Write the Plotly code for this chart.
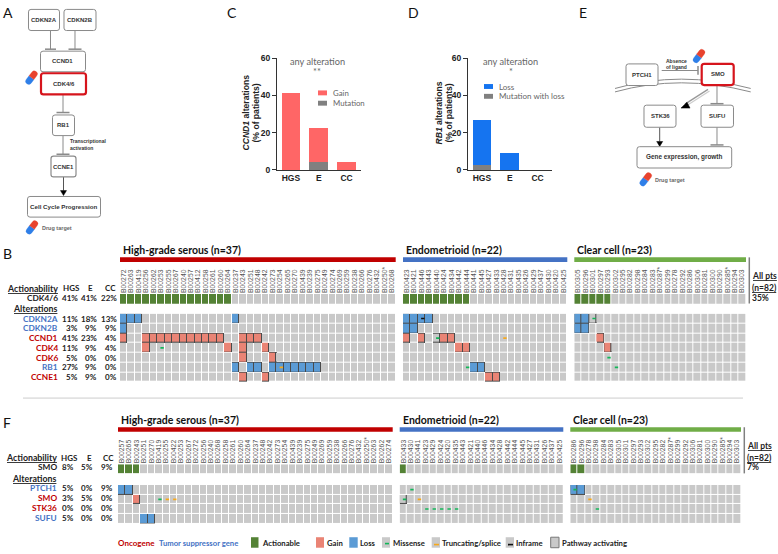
import numpy as np
import plotly.graph_objects as go

W, H = 778, 554
SANS = "Liberation Sans"
LATO = "Lato"

# ---------- bar panels ----------
GROUPS = ["HGS", "E", "CC"]
CCND1_MUT = [0, 4.5, 0]
CCND1_GAIN = [41, 18.2, 4.5]
RB1_MUT = [2.7, 0, 0]
RB1_LOSS = [24.3, 9, 0]

# ---------- panel B ----------
B_HGS_IDS = ["B00272","B00263","B00419","B00256","B00262","B00253","B00255","B00267","B00240","B00257",
             "B00412","B00258","B00261","B00260","B00264","B00237","B00243","B00251","B00248","B00242",
             "B00273","B00254","B00265","B00270","B00439","B00239","B00275","B00249","B00274","B00269",
             "B00259","B00238","B00266","B00276","B00432","B00250*","B00268"]
B_E_IDS = ["B00423","B00421","B00446","B00443","B00440","B00424","B00434","B00442","B00444","B00441","B00445",
           "B00427","B00433","B00428","B00431","B00435","B00426","B00429","B00437","B00430","B00420","B00425"]
B_CC_IDS = ["B00305","B00296","B00301","B00297","B00293","B00302","B00295","B00282","B00298","B00284","B00283",
            "B00287*","B00299","B00278","B00292","B00286","B00306","B00281","B00300","B00290","B00285*","B00294","B00303"]
B_GENES = ["CDKN2A", "CDKN2B", "CCND1", "CDK4", "CDK6", "RB1", "CCNE1"]
B_GENE_KIND = ["ts", "ts", "onc", "onc", "onc", "ts", "onc"]
B_PCT_HGS = ["11%", "3%", "41%", "11%", "5%", "27%", "5%"]
B_PCT_E = ["18%", "9%", "23%", "9%", "0%", "9%", "9%"]
B_PCT_CC = ["13%", "9%", "4%", "4%", "0%", "0%", "0%"]
B_ACTION_LABEL = "CDK4/6"
B_ACTION_PCT = ["41%", "41%", "22%"]
B_ALL_PCT = "35%"
B_HGS_ACTION = 15
B_HGS_LOSS = {0: [0, 1, 2, 15], 1: [0], 5: [15, 17, 18, 20, 21, 22, 23, 24, 25, 26]}
B_HGS_GAIN = {2: [0, 3, 4, 5, 6, 7, 8, 9, 10, 11, 12, 13, 16, 17, 18], 3: [3, 14, 16, 19], 4: [16, 20], 6: [16, 19]}
B_HGS_MISS = {3: [5]}
B_HGS_TRUNC = {5: [21]}
B_E_ACTION = 9
B_E_LOSS = {0: [0, 1, 2, 3], 1: [0, 1], 5: [9, 10]}
B_E_GAIN = {2: [0, 2, 5, 6], 3: [7, 8], 6: [11, 12]}
B_E_PATH = {2: [4]}
B_E_MISS = {2: [4], 5: [8]}
B_E_TRUNC = {2: [13]}
B_E_INFRAME = {0: [2]}
B_CC_ACTION = 5
B_CC_LOSS = {0: [0, 1], 1: [0, 1]}
B_CC_GAIN = {2: [3], 3: [4]}
B_CC_PATH = {0: [2]}
B_CC_MISS = {0: [2], 4: [4], 5: [5]}

# ---------- panel F ----------
F_HGS_IDS = ["B00257","B00265","B00243","B00251","B00270","B00419","B00255","B00422","B00253","B00267",
             "B00272","B00256","B00240","B00268","B00258","B00261","B00260","B00264","B00237","B00248",
             "B00242","B00273","B00254","B00439","B00239","B00275","B00249","B00269","B00259","B00238",
             "B00266","B00276","B00432","B00250*","B00263","B00262","B00274"]
F_E_IDS = ["B00433","B00430","B00441","B00423","B00429","B00424","B00420","B00435","B00443","B00421","B00440",
           "B00446","B00434","B00428","B00442","B00444","B00445","B00427","B00431","B00426","B00437","B00425"]
F_CC_IDS = ["B00286","B00296","B00278","B00298","B00284","B00283","B00305","B00301","B00297","B00293","B00302",
            "B00295","B00282","B00287*","B00299","B00292","B00306","B00281","B00300","B00290","B00285*","B00294","B00303"]
F_GENES = ["PTCH1", "SMO", "STK36", "SUFU"]
F_GENE_KIND = ["ts", "onc", "onc", "ts"]
F_PCT_HGS = ["5%", "3%", "0%", "5%"]
F_PCT_E = ["0%", "5%", "0%", "0%"]
F_PCT_CC = ["9%", "0%", "0%", "0%"]
F_ACTION_LABEL = "SMO"
F_ACTION_PCT = ["8%", "5%", "9%"]
F_ALL_PCT = "7%"
F_HGS_ACTION = 3
F_HGS_LOSS = {0: [0, 1], 3: [3, 4]}
F_HGS_GAIN = {1: [2]}
F_HGS_MISS = {1: [5]}
F_HGS_TRUNC = {1: [6, 7]}
F_E_ACTION = 1
F_E_PATH = {1: [0]}
F_E_MISS = {0: [1], 1: [0], 2: [3, 4, 5, 6, 7]}
F_E_TRUNC = {1: [2]}
F_CC_ACTION = 2
F_CC_LOSS = {0: [0, 1]}
F_CC_MISS = {0: [0], 2: [3]}
F_CC_TRUNC = {1: [2]}

# ---------- colours ----------
GREY, GAIN, LOSS, ACT = "#c9c9c9", "#ea8475", "#5b9bd5", "#548235"
EDGE = "#4a4a4a"
MISS_C, TRUNC_C, INFR_C = "#12b658", "#f7a81b", "#111111"
RED, BLUE = "#c00000", "#4472c4"
DIAG = "#8a8a8a"
TXT = "#222222"

fx = lambda x: x / W
fy = lambda y: 1 - y / H

fig = go.Figure()
shapes, notes, axes = [], [], {}


def text(x, y, s, size=9, color=TXT, anchor="left", family=LATO, bold=True, **kw):
    notes.append(dict(x=fx(x), y=fy(y), xref="paper", yref="paper", showarrow=False, xanchor=anchor,
                      yanchor="middle", text=f"<b>{s}</b>" if bold else s,
                      font=dict(size=size, color=color, family=family), borderpad=0, **kw))


def path(d, fill="rgba(0,0,0,0)", line=DIAG, width=1):
    shapes.append(dict(type="path", path=d, xref="paper", yref="paper", fillcolor=fill,
                       line=dict(color=line, width=width), layer="above"))


def P(x, y):
    return f"{fx(x):.5f},{fy(y):.5f}"


def line(x0, y0, x1, y1, color=DIAG, width=1):
    path(f"M{P(x0, y0)} L{P(x1, y1)}", line=color, width=width)


def rect(x0, y0, x1, y1, fill, edge=None, width=1):
    shapes.append(dict(type="rect", xref="paper", yref="paper", x0=fx(x0), x1=fx(x1), y0=fy(y0), y1=fy(y1),
                       fillcolor=fill, line=dict(color=edge or fill, width=width if edge else 0), layer="above"))


def box(x0, y0, x1, y1, label, color=DIAG, width=1, r=2.5, size=6):
    d = (f"M{P(x0 + r, y0)} L{P(x1 - r, y0)} Q{P(x1, y0)} {P(x1, y0 + r)} L{P(x1, y1 - r)} "
         f"Q{P(x1, y1)} {P(x1 - r, y1)} L{P(x0 + r, y1)} Q{P(x0, y1)} {P(x0, y1 - r)} L{P(x0, y0 + r)} "
         f"Q{P(x0, y0)} {P(x0 + r, y0)} Z")
    path(d, fill="#ffffff", line=color, width=width)
    text((x0 + x1) / 2, (y0 + y1) / 2, label, size=size, color="#333333", anchor="center", family=SANS)


def tbar_v(x, y0, y1, half=6.5):
    line(x, y0, x, y1)
    line(x - half, y1, x + half, y1, width=1.5)


def arrow_down(x, y0, y1):
    line(x, y0, x, y1 - 5, color="#555555")
    path(f"M{P(x - 3, y1 - 5)} L{P(x + 3, y1 - 5)} L{P(x, y1)} Z", fill="#000000", line="#000000", width=0.5)


def pill(cx, cy, length=15.5, wid=6.2):
    u = np.array([0.6, -0.8])
    v = np.array([0.8, 0.6])
    c = np.array([cx, cy])
    hl, hw = length / 2, wid / 2

    def half(sign, col):
        a = c + v * hw
        b = c - v * hw
        e1 = c + sign * u * (hl - hw) + v * hw
        e2 = c + sign * u * (hl - hw) - v * hw
        t1 = e1 + sign * u * hw
        t2 = e2 + sign * u * hw
        path(f"M{P(*a)} L{P(*e1)} Q{P(*t1)} {P(*(c + sign * u * hl))} Q{P(*t2)} {P(*e2)} L{P(*b)} Z",
             fill=col, line=col, width=0.3)
    half(-1, "#2f7fe8")
    half(1, "#e8432e")


# ---------- bars ----------
def bar_panel(idx, x0, x1, bottom, top, segs):
    sfx = "" if idx == 1 else str(idx)
    for name, vals, col in segs:
        fig.add_bar(x=GROUPS, y=vals, name=name, marker=dict(color=col, line=dict(width=0)), width=0.67,
                    xaxis=f"x{sfx}", yaxis=f"y{sfx}", showlegend=False, hoverinfo="skip")
    axes[f"xaxis{sfx}"] = dict(domain=[fx(x0), fx(x1)], range=[-0.5, 2.52], anchor=f"y{sfx}", type="category",
                               showline=True, linecolor="#333333", linewidth=1, ticks="", showgrid=False,
                               zeroline=False, tickfont=dict(size=8.5, family=SANS, color=TXT, weight=700))
    axes[f"yaxis{sfx}"] = dict(domain=[fy(bottom), fy(top)], range=[0, 60], anchor=f"x{sfx}", showline=True,
                               linecolor="#333333", linewidth=1, ticks="outside", ticklen=4, tickcolor="#333333",
                               tickvals=[0, 20, 40, 60], showgrid=False, zeroline=False,
                               tickfont=dict(size=8.5, family=SANS, color=TXT, weight=700))


bar_panel(1, 277, 361, 168, 54, [("Mutation", CCND1_MUT, "#808080"), ("Gain", CCND1_GAIN, "#ff6666")])
bar_panel(2, 468, 552, 168, 54, [("Mutation with loss", RB1_MUT, "#808080"), ("Loss", RB1_LOSS, "#1574f0")])
barmode = "stack"

text(246.5, 110, "<i>CCND1</i> alterations", size=8.6, anchor="center", family=SANS, textangle=-90)
text(256.5, 110, "(% of patients)", size=8.6, anchor="center", family=SANS, textangle=-90)
text(439.5, 110, "<i>RB1</i> alterations", size=8.6, anchor="center", family=SANS, textangle=-90)
text(449.5, 110, "(% of patients)", size=8.6, anchor="center", family=SANS, textangle=-90)

GT = "#666666"
text(317, 58, "any alteration", size=9.2, color=GT, anchor="center", bold=False)
text(317, 68, "**", size=9.2, color=GT, anchor="center", bold=False)
rect(318, 87, 327, 92, "#ff6666")
text(331.5, 89.5, "Gain", size=7.8, color=GT, bold=False)
rect(318, 97.5, 327, 102.5, "#808080")
text(331.5, 100, "Mutation", size=7.8, color=GT, bold=False)
text(510.5, 58, "any alteration", size=9.2, color=GT, anchor="center", bold=False)
text(510.5, 68, "*", size=9.2, color=GT, anchor="center", bold=False)
rect(484, 80.5, 493, 85.5, "#1574f0")
text(497.5, 83, "Loss", size=8, color=GT, bold=False)
rect(484, 90.5, 493, 95.5, "#808080")
text(497.5, 93, "Mutation with loss", size=8, color=GT, bold=False)

# ---------- oncoprint groups ----------
axis_no = [3]
COLORSCALE = [[0, GREY], [0.25, GREY], [0.25, GAIN], [0.5, GAIN], [0.5, LOSS], [0.75, LOSS], [0.75, ACT], [1, ACT]]


def group(ids, nrows, x0, x1, a0, a1, m0, m1, action, loss=None, gain=None, pathw=None, miss=None, trunc=None, infr=None):
    loss, gain, pathw, miss, trunc, infr = [d or {} for d in (loss, gain, pathw, miss, trunc, infr)]
    n = len(ids)
    xn = axis_no[0]
    ya, ym = xn, xn + 1
    axis_no[0] += 2
    xs = list(range(n))
    common = dict(xaxis=f"x{xn}", hoverinfo="skip", showscale=False)
    fig.add_heatmap(z=[[3 if i < action else 0 for i in xs]], x=xs, y=[0], colorscale=COLORSCALE, zmin=0, zmax=3,
                    xgap=1, ygap=0, yaxis=f"y{ya}", **common)
    z = [[0] * n for _ in range(nrows)]
    edge = [[None] * n for _ in range(nrows)]
    for code, tbl in ((1, gain), (2, loss), (0, pathw)):
        for r, cols in tbl.items():
            for c in cols:
                z[r][c] = code
                edge[r][c] = 1
    ys = list(range(nrows))
    fig.add_heatmap(z=edge, x=xs, y=ys, colorscale=[[0, EDGE], [1, EDGE]], zmin=0, zmax=1, yaxis=f"y{ym}", **common)
    fig.add_heatmap(z=z, x=xs, y=ys, colorscale=COLORSCALE, zmin=0, zmax=3, xgap=1, ygap=1, yaxis=f"y{ym}", **common)
    for tbl, col in ((miss, MISS_C), (trunc, TRUNC_C), (infr, INFR_C)):
        px, py = [], []
        for r, cols in tbl.items():
            px += [c + 0.15 for c in cols]
            py += [r] * len(cols)
        if px:
            fig.add_scatter(x=px, y=py, mode="markers", xaxis=f"x{xn}", yaxis=f"y{ym}", showlegend=False, hoverinfo="skip",
                            marker=dict(symbol="line-ew", size=2.4, line=dict(color=col, width=1.7)))
    axes[f"xaxis{xn}"] = dict(domain=[fx(x0), fx(x1)], range=[-0.5, n - 0.5], anchor=f"y{ya}", side="top",
                              tickmode="array", tickvals=xs, ticktext=ids, tickangle=-90, ticks="", ticklen=0,
                              showgrid=False, zeroline=False, showline=False,
                              tickfont=dict(size=6.8, family=SANS, color="#555555"))
    axes[f"yaxis{ya}"] = dict(domain=[fy(a1), fy(a0)], range=[-0.5, 0.5], anchor=f"x{xn}", visible=False)
    axes[f"yaxis{ym}"] = dict(domain=[fy(m1), fy(m0)], range=[nrows - 0.5, -0.5], anchor=f"x{xn}", visible=False)


group(B_HGS_IDS, 7, 120, 395.7, 294.3, 304.3, 314.3, 384, B_HGS_ACTION, B_HGS_LOSS, B_HGS_GAIN, None, B_HGS_MISS, B_HGS_TRUNC)
group(B_E_IDS, 7, 403, 567.3, 294.3, 304.3, 314.3, 384, B_E_ACTION, B_E_LOSS, B_E_GAIN, B_E_PATH, B_E_MISS, B_E_TRUNC, B_E_INFRAME)
group(B_CC_IDS, 7, 574.3, 746, 294.3, 304.3, 314.3, 384, B_CC_ACTION, B_CC_LOSS, B_CC_GAIN, B_CC_PATH, B_CC_MISS)
group(F_HGS_IDS, 4, 118, 392.7, 467.7, 477, 488.7, 528, F_HGS_ACTION, F_HGS_LOSS, F_HGS_GAIN, None, F_HGS_MISS, F_HGS_TRUNC)
group(F_E_IDS, 4, 399.7, 563.3, 467.7, 477, 488.7, 528, F_E_ACTION, None, None, F_E_PATH, F_E_MISS, F_E_TRUNC)
group(F_CC_IDS, 4, 570.3, 741, 467.7, 477, 488.7, 528, F_CC_ACTION, F_CC_LOSS, None, None, F_CC_MISS, F_CC_TRUNC)


def table(genes, kinds, p1, p2, p3, first_y, dy, lab_x, cols, head_cols, head_y, act_y, alt_y, act_label, act_pct):
    FS, PS = 8.3, 8
    text(lab_x, head_y, "<u>Actionability</u>", size=8.8, anchor="right")
    for hx, h in zip(head_cols, GROUPS):
        text(hx, head_y, h, size=PS, anchor="center")
    text(lab_x, act_y, act_label, size=FS, anchor="right")
    for cx, pct in zip(cols, act_pct):
        text(cx, act_y, pct, size=PS, anchor="right")
    text(lab_x, alt_y, "<u>Alterations</u>", size=8.8, anchor="right")
    for i, g in enumerate(genes):
        y = first_y + dy * i
        text(lab_x, y, g, size=FS, color=RED if kinds[i] == "onc" else BLUE, anchor="right")
        for cx, pct in zip(cols, (p1[i], p2[i], p3[i])):
            text(cx, y, pct, size=PS, anchor="right")


table(B_GENES, B_GENE_KIND, B_PCT_HGS, B_PCT_E, B_PCT_CC, 319.3, 9.93, 59, (79, 97.7, 118.3), (71, 90.5, 110),
      288.7, 298.7, 308.7, B_ACTION_LABEL, B_ACTION_PCT)
table(F_GENES, F_GENE_KIND, F_PCT_HGS, F_PCT_E, F_PCT_CC, 492.3, 9.9, 57.7, (75, 94.3, 114), (69.7, 89, 108),
      461, 471, 482.7, F_ACTION_LABEL, F_ACTION_PCT)


def headers(ty, by0, by1, segs, vx, vy1, all_x, ay, all_pct):
    for x0, x1, label, col in segs:
        text(x0 + 2, ty, label, size=10.5, color="#111111")
        rect(x0, by0, x1, by1, col)
    line(vx, by0, vx, vy1, color="#808080", width=1.5)
    text(all_x, ay[0], "<u>All pts</u>", size=8.5)
    text(all_x, ay[1], "<u>(n=82)</u>", size=8.5)
    text(all_x, ay[2], all_pct, size=8.5)


headers(249.7, 257, 261.7, [(120, 395.7, "High-grade serous (n=37)", "#c00000"), (403, 567.3, "Endometrioid (n=22)", "#4472c4"),
                            (574.3, 746, "Clear cell (n=23)", "#70ad47")], 749.3, 304, 751, (276.3, 288, 298.5), B_ALL_PCT)
headers(423, 430, 434.7, [(118, 392.7, "High-grade serous (n=37)", "#c00000"), (399.7, 563.3, "Endometrioid (n=22)", "#4472c4"),
                          (570.3, 741, "Clear cell (n=23)", "#70ad47")], 744.3, 477, 746, (449.3, 461, 471), F_ALL_PCT)
line(23, 400.3, 743, 400.3, color="#cccccc", width=1)

# ---------- bottom legend ----------
LY, LS0, LS1 = 547.7, 542, 552.7
LF = 7.7
text(117, LY, "Oncogene", size=8, color=RED)
text(158, LY, "Tumor suppressor gene", size=LF, color=BLUE)
rect(251, LS0, 258.5, LS1, ACT)
text(260.7, LY, "Actionable", size=LF)
rect(316, LS0, 324, LS1, GAIN)
text(326, LY, "Gain", size=LF)
rect(349.3, LS0, 357.7, LS1, LOSS)
text(359, LY, "Loss", size=LF)
rect(382, LS0, 390, LS1, GREY)
line(385, 548.5, 389, 548.5, color=MISS_C, width=1.6)
text(392, LY, "Missense", size=LF)
rect(431.7, LS0, 440, LS1, GREY)
line(434, 549.5, 439, 549.5, color=TRUNC_C, width=1.6)
text(441.3, LY, "Truncating/splice", size=LF)
rect(505.7, LS0, 514, LS1, GREY)
line(508, 549.5, 513, 549.5, color=INFR_C, width=1.6)
text(515, LY, "Inframe", size=LF)
rect(550.7, LS0, 559, LS1, GREY, edge="#777777")
text(560.7, LY, "Pathway activating", size=LF)

# ---------- panel letters ----------
for lx, ly, s in ((2, 8, "A"), (226, 8, "C"), (407, 8, "D"), (578, 8, "E"), (2, 253, "B"), (2, 425, "F")):
    text(lx, ly, s, size=14, color="#111111", bold=False)

# ---------- diagram A ----------
tbar_v(50.5, 26, 45, half=5.5)
tbar_v(75, 26, 45, half=6.5)
tbar_v(63, 91, 109.5)
tbar_v(63, 133, 152)
arrow_down(63.5, 175, 194)
box(28.5, 4.5, 59.5, 26, "CDKN2A")
box(64, 4.5, 96, 26, "CDKN2B")
box(40.5, 47, 85.5, 68, "CCND1")
box(41, 69.5, 86, 91, "CDK4/6", color="#d6141c", width=2.2)
box(52.5, 112, 74.5, 133, "RB1")
box(51, 154, 76, 175, "CCNE1", width=1.2)
box(27.5, 195, 100.5, 216, "Cell Cycle Progression", size=6.2)
text(68.5, 139, "Transcriptional", size=5, color="#333333", family=SANS)
text(68.5, 146, "activation", size=5, color="#333333", family=SANS)
pill(31.5, 74)
pill(32, 226.5)
text(41, 227, "Drug target", size=5.5, color="#666666", family=SANS)

# ---------- diagram E ----------
path(f"M{P(615, 85)} Q{P(680, 66)} {P(750.7, 85)}")
path(f"M{P(615, 88.5)} Q{P(680, 70)} {P(750.7, 88.5)}")
line(661.7, 66.7, 698, 66.7)
line(698, 62, 698, 71, width=1.5)
tbar_v(717, 82, 100.5)
tbar_v(717, 124.5, 142.5)
arrow_down(659.7, 124.5, 144)
line(708, 86, 685, 101, color="#999999", width=1.4)
line(709.5, 87.5, 686.5, 102.5, color="#cccccc", width=1.2)
path(f"M{P(687, 99)} L{P(690, 105)} L{P(681, 105)} Z", fill="#000000", line="#000000", width=0.5)
box(626, 60, 658, 82, "PTCH1")
box(701.7, 60, 733.7, 81.5, "SMO", color="#d6141c", width=2.2)
box(644, 102, 676, 124.5, "STK36")
box(701, 102, 733.5, 124.5, "SUFU")
box(637, 144.3, 731.7, 166, "Gene expression, growth", size=6.4)
text(676.7, 57, "Absence", size=5, color="#333333", anchor="center", family=SANS)
text(676.7, 63, "of ligand", size=5, color="#333333", anchor="center", family=SANS)
pill(699, 52)
pill(645.7, 177.5)
text(654, 178, "Drug target", size=5.5, color="#666666", family=SANS)

fig.update_layout(width=W, height=H, autosize=False, margin=dict(l=0, r=0, t=0, b=0, pad=0),
                  paper_bgcolor="#ffffff", plot_bgcolor="rgba(0,0,0,0)", barmode=barmode, bargap=0.33,
                  shapes=shapes, annotations=notes, showlegend=False, **axes)
fig.write_html("out.html", config={"displayModeBar": False},
               post_script="document.body.style.margin='0';document.body.style.overflow='hidden';")
